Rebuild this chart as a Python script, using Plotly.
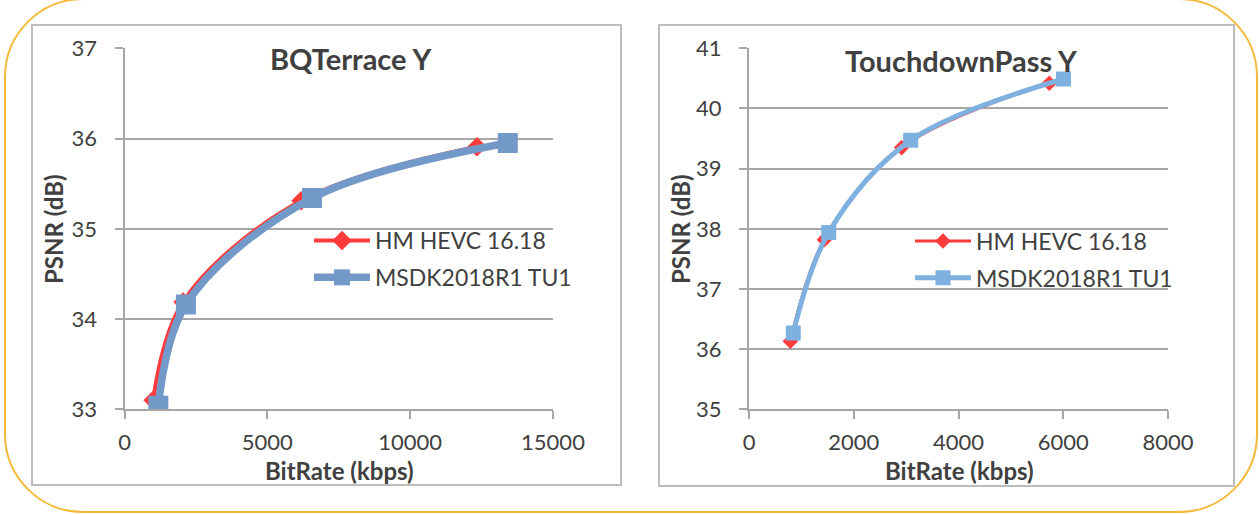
import plotly.graph_objects as go

W, H = 1259, 514

# ---------------- data ----------------
bq_hm_rate = [1000, 2050, 6180, 12340]
bq_hm_psnr = [33.10, 34.19, 35.31, 35.91]
bq_msdk_rate = [1186, 2150, 6565, 13418]
bq_msdk_psnr = [33.04, 34.16, 35.34, 35.95]

td_hm_rate = [790, 1440, 2915, 5734]
td_hm_psnr = [36.13, 37.82, 39.35, 40.42]
td_msdk_rate = [845, 1522, 3087, 6005]
td_msdk_psnr = [36.27, 37.94, 39.47, 40.49]

bq_xticks = [0, 5000, 10000, 15000]
bq_yticks = [33, 34, 35, 36, 37]
td_xticks = [0, 2000, 4000, 6000, 8000]
td_yticks = [35, 36, 37, 38, 39, 40, 41]

series_names = ["HM HEVC 16.18", "MSDK2018R1 TU1"]
titles = ["BQTerrace Y", "TouchdownPass Y"]
x_title = "BitRate (kbps)"
y_title = "PSNR (dB)"

# ---------------- helpers ----------------
def px(x):
    return x / W


def py(y):
    return 1 - y / H


FONT = "Lato"
TXT = "#404040"
GRID = "#A6A6A6"
RED = "#FF3B3B"
BLUE_L = "#7399C9"
BLUE_R = "#7EB0E0"

fig = go.Figure()

# left chart traces
fig.add_trace(go.Scatter(
    x=bq_hm_rate, y=bq_hm_psnr, name=series_names[0], mode="lines+markers",
    line=dict(color=RED, width=4, shape="spline"),
    marker=dict(symbol="diamond", size=15, color=RED),
    xaxis="x", yaxis="y", legend="legend", legendgroup="a"))
fig.add_trace(go.Scatter(
    x=bq_msdk_rate, y=bq_msdk_psnr, name=series_names[1], mode="lines+markers",
    line=dict(color=BLUE_L, width=7.5, shape="spline"),
    marker=dict(symbol="square", size=20, color=BLUE_L),
    xaxis="x", yaxis="y", legend="legend", legendgroup="b"))

# right chart traces
fig.add_trace(go.Scatter(
    x=td_hm_rate, y=td_hm_psnr, name=series_names[0], mode="lines+markers",
    line=dict(color=RED, width=3, shape="spline"),
    marker=dict(symbol="diamond", size=12, color=RED),
    xaxis="x2", yaxis="y2", legend="legend2", legendgroup="c"))
fig.add_trace(go.Scatter(
    x=td_msdk_rate, y=td_msdk_psnr, name=series_names[1], mode="lines+markers",
    line=dict(color=BLUE_R, width=5, shape="spline"),
    marker=dict(symbol="square", size=15, color=BLUE_R),
    xaxis="x2", yaxis="y2", legend="legend2", legendgroup="d"))

tickfont = dict(family=FONT, size=22, color=TXT)


def xaxis_style(domain, rng, ticks, anchor):
    return dict(domain=domain, range=rng, tickvals=ticks, anchor=anchor,
                tickformat="d", automargin=False,
                showline=True, linecolor=GRID, linewidth=2,
                ticks="outside", ticklen=8, tickwidth=2, tickcolor=GRID,
                showgrid=False, zeroline=False, tickfont=tickfont,
                ticklabelstandoff=4, fixedrange=True)


def yaxis_style(domain, rng, ticks, anchor):
    return dict(domain=domain, range=rng, tickvals=ticks, anchor=anchor,
                tickformat="d", automargin=False,
                showline=True, linecolor=GRID, linewidth=2,
                ticks="outside", ticklen=8, tickwidth=2, tickcolor=GRID,
                showgrid=True, gridcolor=GRID, gridwidth=2, zeroline=False,
                tickfont=tickfont, ticklabelstandoff=13, fixedrange=True)


ydom = [py(409.3), py(48.3)]

legend_common = dict(font=dict(family=FONT, size=23, color=TXT),
                     bgcolor="rgba(0,0,0,0)", tracegroupgap=4, itemwidth=56,
                     xanchor="left", yanchor="middle", itemclick=False)

fig.update_layout(
    template="none",
    width=W, height=H, margin=dict(l=0, r=0, t=0, b=0, pad=0, autoexpand=False),
    paper_bgcolor="white", plot_bgcolor="white",
    xaxis=xaxis_style([px(124.5), px(553)], [0, 15000], bq_xticks, "y"),
    yaxis=yaxis_style(ydom, [33, 37], bq_yticks, "x"),
    xaxis2=xaxis_style([px(749), px(1168)], [0, 8000], td_xticks, "y2"),
    yaxis2=yaxis_style(ydom, [35, 41], td_yticks, "x2"),
    legend=dict(x=px(309), y=py(259), **legend_common),
    legend2=dict(x=px(910), y=py(259.5), **legend_common),
    showlegend=True,
)

# titles and axis titles
def note(text, x, y, size, angle=0):
    return dict(text=text, x=px(x), y=py(y), xref="paper", yref="paper",
                xanchor="center", yanchor="middle", showarrow=False,
                textangle=angle, font=dict(family=FONT, size=size, color=TXT))


ann = [note("<b>%s</b>" % titles[0], 350, 58, 29),
       note("<b>%s</b>" % titles[1], 961, 60, 29)]
for cx in (339, 959):
    ann.append(note("<b>%s</b>" % x_title, cx, 470, 24))
for cx in (54, 681):
    ann.append(note("<b>%s</b>" % y_title, cx, 229, 24, -90))
fig.update_layout(annotations=ann)

# panel borders
shapes = []
for (x0, y0, x1, y1) in [(32, 25, 621, 485), (659, 25, 1234, 486)]:
    shapes.append(dict(type="rect", xref="paper", yref="paper",
                       x0=px(x0), x1=px(x1), y0=py(y1), y1=py(y0),
                       line=dict(color="#BCBCBC", width=2), layer="below"))

# outer rounded frame
L, T, R, B, r = 5, -1, 1257, 512, 78
k = 0.5523 * r


def P(x, y):
    return "%.5f,%.5f" % (px(x), py(y))


path = ("M " + P(L + r, T) + " L " + P(R - r, T) +
        " C " + P(R - r + k, T) + " " + P(R, T + r - k) + " " + P(R, T + r) +
        " L " + P(R, B - r) +
        " C " + P(R, B - r + k) + " " + P(R - r + k, B) + " " + P(R - r, B) +
        " L " + P(L + r, B) +
        " C " + P(L + r - k, B) + " " + P(L, B - r + k) + " " + P(L, B - r) +
        " L " + P(L, T + r) +
        " C " + P(L, T + r - k) + " " + P(L + r - k, T) + " " + P(L + r, T) + " Z")
shapes.append(dict(type="path", xref="paper", yref="paper", path=path,
                   line=dict(color="#F5BA3A", width=2), layer="below"))
fig.update_layout(shapes=shapes)

fig.write_html("out.html", config={"displayModeBar": False})
